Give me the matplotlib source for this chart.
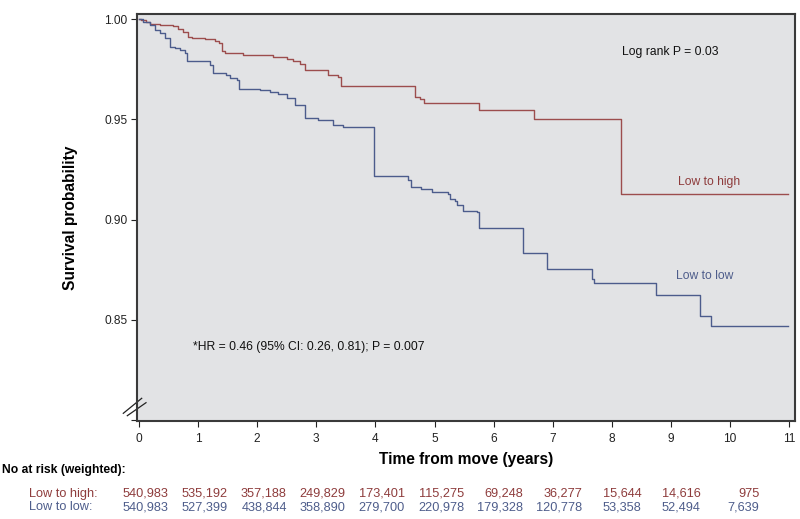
import matplotlib
matplotlib.use("Agg")
import matplotlib.pyplot as plt
from matplotlib import font_manager as fm
from matplotlib.transforms import blended_transform_factory

_names = {f.name for f in fm.fontManager.ttflist}
if 'Liberation Sans Narrow' in _names:
    FAM, K = 'Liberation Sans Narrow', 1.0 / 0.82
else:
    FAM, K = 'Liberation Sans', 1.0
plt.rcParams['font.family'] = [FAM, 'DejaVu Sans']

# ---- data ----
high_t = [0, 0.04, 0.12, 0.19, 0.36, 0.58, 0.66, 0.74, 0.83, 0.89, 1.12, 1.29, 1.35,
          1.40, 1.46, 1.76, 2.27, 2.50, 2.61, 2.72, 2.81, 3.20, 3.37, 3.42, 4.67,
          4.75, 4.82, 5.75, 6.69, 8.15, 10.98]
high_s = [1.0, 0.9995, 0.9985, 0.9975, 0.997, 0.9965, 0.995, 0.9935, 0.991, 0.9905,
          0.990, 0.9893, 0.988, 0.9842, 0.983, 0.9822, 0.9813, 0.9800, 0.9790, 0.9775,
          0.9745, 0.9722, 0.9710, 0.9667, 0.9613, 0.9600, 0.9580, 0.9547, 0.9502,
          0.9127, 0.9127]

low_t = [0, 0.07, 0.19, 0.27, 0.36, 0.44, 0.52, 0.61, 0.69, 0.78, 0.81, 1.20, 1.26,
         1.48, 1.54, 1.65, 1.69, 2.05, 2.22, 2.36, 2.50, 2.64, 2.81, 3.03, 3.29,
         3.46, 3.98, 4.56, 4.61, 4.78, 4.95, 5.23, 5.26, 5.35, 5.38, 5.49, 5.72,
         5.76, 6.50, 6.90, 7.67, 7.70, 8.74, 9.50, 9.68, 10.98]
low_s = [1.0, 0.9988, 0.9972, 0.9947, 0.993, 0.9905, 0.9863, 0.9855, 0.9847, 0.9833,
         0.9792, 0.9772, 0.973, 0.9722, 0.9705, 0.9697, 0.965, 0.9647, 0.9638, 0.9625,
         0.9605, 0.9572, 0.9508, 0.9497, 0.9472, 0.946, 0.9218, 0.9197, 0.9163,
         0.9152, 0.9140, 0.9130, 0.9105, 0.9093, 0.9072, 0.9043, 0.9038, 0.896,
         0.8833, 0.8753, 0.8705, 0.8683, 0.8623, 0.8518, 0.8468, 0.8468]

risk_times = list(range(11))
risk_high = ["540,983", "535,192", "357,188", "249,829", "173,401", "115,275",
             "69,248", "36,277", "15,644", "14,616", "975"]
risk_low = ["540,983", "527,399", "438,844", "358,890", "279,700", "220,978",
            "179,328", "120,778", "53,358", "52,494", "7,639"]

x_ticks = list(range(12))
y_ticks = [0.80, 0.85, 0.90, 0.95, 1.00]
y_ticklabels = ["", "0.85", "0.90", "0.95", "1.00"]

red = '#9c4d4d'
blue = '#4c5c8c'
red_txt = '#8e3c3c'
blue_txt = '#4e5d8b'

fs_tick = 8.6 * K
fs_txt = 8.7 * K
fs_lab = 11.2 * K
fs_risk = 9.2 * K

W, H = 800, 519
fig = plt.figure(figsize=(W / 100, H / 100), dpi=100)
ax_l, ax_r, ax_t, ax_b = 137, 795, 13.7, 421
ax = fig.add_axes([ax_l / W, 1 - ax_b / H, (ax_r - ax_l) / W, (ax_b - ax_t) / H])
ax.set_facecolor('#e2e3e5')

ax.step(high_t, high_s, where='post', color=red, lw=1.0)
ax.step(low_t, low_s, where='post', color=blue, lw=1.0)

ax.set_xlim(-0.034, 11.1)
ax.set_ylim(0.7995, 1.0028)
ax.set_xticks(x_ticks)
ax.set_yticks(y_ticks)
ax.set_yticklabels(y_ticklabels)
ax.tick_params(axis='both', direction='out', length=4, width=0.8, colors='#222222',
               labelsize=fs_tick, pad=3)
ax.tick_params(axis='x', pad=5)
for sp in ax.spines.values():
    sp.set_linewidth(1.5)
    sp.set_color('#3a3a3a')

ax.set_ylabel("Survival probability", fontsize=fs_lab, fontweight='bold', labelpad=19)
ax.set_xlabel("Time from move (years)", fontsize=fs_lab, fontweight='bold', labelpad=5)

ax.text(8.18, 0.9838, "Log rank P = 0.03", fontsize=fs_txt, ha='left', va='center', color='#111111')
ax.text(9.64, 0.9188, "Low to high", fontsize=fs_txt, ha='center', va='center', color=red_txt)
ax.text(9.58, 0.8720, "Low to low", fontsize=fs_txt, ha='center', va='center', color=blue_txt)
ax.text(0.92, 0.8366, "*HR = 0.46 (95% CI: 0.26, 0.81); P = 0.007", fontsize=fs_txt,
        ha='left', va='center', color='#111111')

# axis break marks
def fx(px):
    return (px - ax_l) / (ax_r - ax_l)
def fy(py):
    return (ax_b - py) / (ax_b - ax_t)
for (x0, y0, x1, y1) in [(123.3, 413.3, 141.7, 398.3), (127.3, 415.7, 146, 402.7)]:
    ax.plot([fx(x0), fx(x1)], [fy(y0), fy(y1)], transform=ax.transAxes,
            color='#222222', lw=0.9, clip_on=False)

# number at risk table
fig.text(2 / W, 1 - 470 / H, "No at risk (weighted):", fontsize=fs_txt, fontweight='bold',
         ha='left', va='center')
fig.text(29 / W, 1 - 494 / H, "Low to high:", fontsize=fs_risk, ha='left', va='center', color=red_txt)
fig.text(29 / W, 1 - 507 / H, "Low to low:", fontsize=fs_risk, ha='left', va='center', color=blue_txt)
tr = blended_transform_factory(ax.transData, fig.transFigure)
for t, a, b in zip(risk_times, risk_high, risk_low):
    ax.text(t + 0.5, 1 - 494 / H, a, transform=tr, fontsize=fs_risk, ha='right', va='center',
            color=red_txt, clip_on=False)
    ax.text(t + 0.5, 1 - 507 / H, b, transform=tr, fontsize=fs_risk, ha='right', va='center',
            color=blue_txt, clip_on=False)

fig.savefig("out.png", dpi=100)
